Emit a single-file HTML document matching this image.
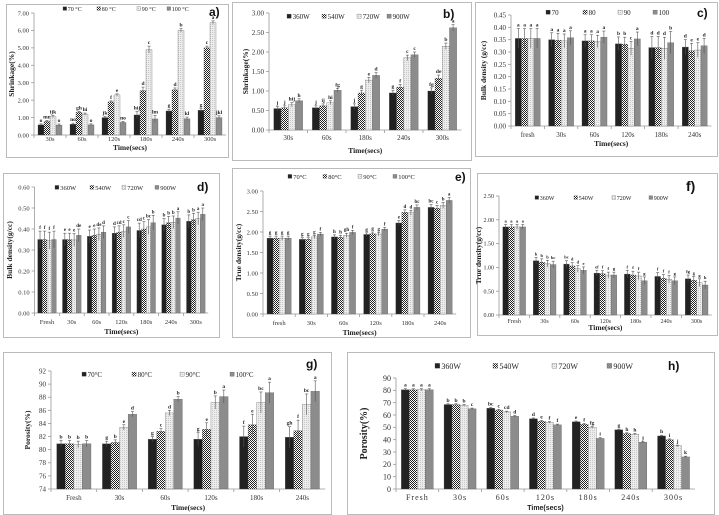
<!DOCTYPE html>
<html><head><meta charset="utf-8"><style>
html,body{margin:0;padding:0;background:#fff;}
svg{display:block;font-family:"Liberation Serif",serif;}
</style></head><body>
<svg id="root" width="719" height="515" viewBox="0 0 719 515" xmlns="http://www.w3.org/2000/svg">
<defs>
<pattern id="chk" width="2" height="2" patternUnits="userSpaceOnUse"><rect width="2" height="2" fill="#fff"/><rect width="1" height="1" fill="#222"/><rect x="1" y="1" width="1" height="1" fill="#222"/></pattern>
<pattern id="dot" width="2" height="2" patternUnits="userSpaceOnUse"><rect width="2" height="2" fill="#ececec"/><rect width="1" height="1" fill="#c8c8c8"/></pattern>
</defs>
</svg>
<script>
// ---- a) Shrinkage temp ----
const aCats=["30s","60s","120s","180s","240s","300s"];
const aTicks=[0,1,2,3,4,5,6,7];
const aS1=[0.58,0.62,1.0,1.15,1.38,1.42];
const aS2=[0.78,1.3,1.9,2.55,2.6,5.0];
const aS3=[1.05,1.2,2.3,4.9,6.0,6.45];
const aS4=[0.57,0.58,0.72,0.92,0.93,1.0];
const aErr=[0.06,0.06,0.06,0.2,0.1,0.1];
const aLet=["o mn ijk o","no gh hi o","jk f e no","hij d c lm","g d b kl","g c a jkl"];
// ---- b) Shrinkage power ----
const bCats=["30s","60s","180s","240s","300s"];
const bTicks=[0,0.5,1,1.5,2,2.5,3];
const bS1=[0.55,0.57,0.6,0.95,1.0];
const bS2=[0.57,0.62,0.95,1.1,1.33];
const bS3=[0.65,0.7,1.28,1.85,2.15];
const bS4=[0.75,1.02,1.4,1.93,2.62];
const bErr=[0.05,0.05,0.07,0.07,0.08];
const bLet=["j j hij h","j ij hi fg","j g e d","g f c c","fg de b a"];
// ---- c) Bulk density temp ----
const cCats=["fresh","30s","60s","120s","180s","240s"];
const cTicks=[0,0.05,0.1,0.15,0.2,0.25,0.3,0.35,0.4,0.45];
const cS1=[0.355,0.35,0.345,0.333,0.318,0.32];
const cS2=[0.355,0.348,0.345,0.332,0.318,0.305];
const cS3=[0.355,0.345,0.343,0.315,0.315,0.308];
const cS4=[0.355,0.358,0.36,0.353,0.338,0.325];
const cErr=[0.04,0.028,0.025,0.028,0.045,0.03];
const cLet=["a a a a","a a a a","a a a a","b b c a","d d d b","d e e d"];
// ---- d) Bulk density power ----
const dCats=["Fresh","30s","60s","120s","180s","240s","300s"];
const dTicks=[0,0.1,0.2,0.3,0.4,0.5,0.6];
const dS1=[0.35,0.35,0.365,0.38,0.393,0.42,0.437];
const dS2=[0.35,0.35,0.37,0.385,0.4,0.43,0.445];
const dS3=[0.345,0.348,0.375,0.39,0.41,0.432,0.45];
const dS4=[0.35,0.37,0.385,0.41,0.43,0.452,0.47];
const dErr=[0.04,0.03,0.03,0.03,0.035,0.03,0.03];
const dLet=["f f f f","e e e de","e e de d","d cd c c","cd c bc b","b b b a","b b a a"];
// ---- e) True density temp ----
const eCats=["fresh","30s","60s","120s","180s","240s"];
const eTicks=[0,0.5,1,1.5,2,2.5,3];
const eS1=[1.85,1.82,1.88,1.94,2.22,2.6];
const eS2=[1.85,1.82,1.87,1.96,2.48,2.58];
const eS3=[1.85,1.88,1.92,1.95,2.47,2.65];
const eS4=[1.85,1.95,1.99,2.07,2.6,2.77];
const eErr=[0.05,0.04,0.05,0.04,0.06,0.07];
const eLet=["g g g g","g g g f","h h gh f","g g g f","e d d bc","bc c b a"];
// ---- f) True density power ----
const fCats=["Fresh","30s","60s","120s","180s","240s","300s"];
const fTicks=[0,0.5,1,1.5,2,2.5];
const fS1=[1.85,1.14,1.07,0.88,0.86,0.81,0.76];
const fS2=[1.85,1.11,1.03,0.87,0.84,0.77,0.73];
const fS3=[1.85,1.08,0.97,0.84,0.82,0.75,0.68];
const fS4=[1.85,1.06,0.94,0.84,0.72,0.72,0.63];
const fErr=[0.05,0.07,0.07,0.06,0.08,0.08,0.08];
const fLet=["a a a a","b b b bc","bc d d e","ef f f g","f f f g","f f f g","fg g g h"];
// ---- g) Porosity temp ----
const gCats=["Fresh","30s","60s","120s","180s","240s"];
const gTicks=[74,76,78,80,82,84,86,88,90,92];
const gS1=[80.9,80.9,81.6,81.6,82.0,81.9];
const gS2=[80.9,81.1,82.8,83.1,83.8,82.9];
const gS3=[80.8,83.4,85.6,87.2,87.2,86.9];
const gS4=[80.9,85.4,87.7,88.1,88.7,88.9];
const gErr=[0.5,0.4,0.4,1.0,1.6,1.6];
const gLet=["b b b b","g b e d","g c d b","g e b a","f e bc a","gh f bc a"];
// ---- h) Porosity power ----
const hCats=["Fresh","30s","60s","120s","180s","240s","300s"];
const hTicks=[0,10,20,30,40,50,60,70,80,90];
const hS1=[80.5,68.5,65.5,57,54.5,48,43];
const hS2=[80.5,68.5,64,55,52.5,45,40];
const hS3=[80.5,68,62.5,54,50,44.5,35];
const hS4=[80.5,65,59,52,41,38,26];
const hErr=[0.8,0.6,0.6,0.6,0.6,0.6,0.6];
const hLet=["a a a a","b b b c","bc c cd d","d e f f","e f fg i","g h h j","h i j k"];

const NS="http://www.w3.org/2000/svg";
const root=document.getElementById('root');
const FILLS=["#222","url(#chk)","url(#dot)","#8c8c8c"];
function mk(tag,attrs,parent,txt){const e=document.createElementNS(NS,tag);for(const k in attrs)e.setAttribute(k,attrs[k]);if(txt!==undefined)e.textContent=txt;(parent||root).appendChild(e);return e;}

function chart(c){
  const g=mk('g',{});
  
  
  const fr=mk('rect',{x:c.frame[0]+0.5,y:c.frame[1]+0.5,width:c.frame[2]-c.frame[0],height:c.frame[3]-c.frame[1],fill:'#fff',stroke:'#bbb','stroke-width':1},g);
  
  
  const yMin=c.ticks[0],yMax=c.ticks[c.ticks.length-1];
  const Y=v=>c.y0+(v-yMin)/(yMax-yMin)*(c.yTop-c.y0);
  const n=c.cats.length,band=c.band;
  const X=i=>c.x0+band*(i+0.5);
  const fs=c.fs||7;
  // y axis
  const ya=mk('line',{x1:c.x0,y1:c.y0,x2:c.x0,y2:c.yTop,stroke:'#999','stroke-width':0.8},g);
  
  
  c.ticks.forEach(t=>{
    mk('line',{x1:c.x0-3,y1:Y(t),x2:c.x0,y2:Y(t),stroke:'#999','stroke-width':0.8},g);
    const tl=mk('text',{x:c.x0-5,y:Y(t)+fs*0.35,'font-size':fs,'text-anchor':'end',fill:'#333'},g,t.toFixed(c.dec));
    
    
  });
  const xa=mk('line',{x1:c.x0,y1:c.y0,x2:c.x0+band*n,y2:c.y0,stroke:'#999','stroke-width':0.8},g);
  
  
  const bw=band*0.75/4;
  c.series.forEach((s,si)=>{
    s.forEach((v,i)=>{
      const bx=X(i)-2*bw+si*bw;
      const r=mk('rect',{x:bx,y:Y(v),width:bw,height:c.y0-Y(v),fill:FILLS[si],stroke:'#555','stroke-width':0.3},g);
      
      
      const e=c.err[i],cx=bx+bw/2;
      mk('line',{x1:cx,y1:Y(v-e),x2:cx,y2:Y(v+e),stroke:'#555','stroke-width':0.6},g);
      mk('line',{x1:cx-1.5,y1:Y(v+e),x2:cx+1.5,y2:Y(v+e),stroke:'#555','stroke-width':0.6},g);
      const lt=mk('text',{x:cx,y:Y(v+e)-2,'font-size':c.lfs||5.5,'font-weight':'bold','text-anchor':'middle',fill:'#222'},g,c.lets[i].split(' ')[si]);
      
      
    });
  });
  c.cats.forEach((cat,i)=>{
    mk('line',{x1:c.x0+band*i,y1:c.y0,x2:c.x0+band*i,y2:c.y0+3,stroke:'#999','stroke-width':0.8},g);
    const xl=mk('text',{x:X(i),y:c.xl,'font-size':fs,'text-anchor':'middle',fill:'#333','letter-spacing':c.ls||0},g,cat);
    
    
  });
  const xt=mk('text',{x:c.x0+band*n/2,y:c.xt,'font-size':c.xfs||7.5,'font-weight':'bold','text-anchor':'middle',fill:'#222','font-family':c.xff||'Liberation Serif, serif'},g,'Time(secs)');
  
  
  const yc=(c.y0+c.yTop)/2;
  const yt=mk('text',{x:c.yx,y:yc,'font-size':c.yfs||7.5,'font-weight':'bold','text-anchor':'middle',fill:'#222',transform:'rotate(-90 '+c.yx+' '+yc+')'},g,c.ytitle);
  
  
  c.legend.forEach((lab,li)=>{
    const lx=c.legX[li];
    const m=mk('rect',{x:lx,y:c.legY-c.lgfs*0.7,width:c.lgfs*0.6,height:c.lgfs*0.6,fill:FILLS[li],stroke:'#555','stroke-width':0.3},g);
    
    
    const lt=mk('text',{x:lx+c.lgfs*0.8,y:c.legY,'font-size':c.lgfs,fill:'#222'},g,lab);
    
    
  });
  const pt=mk('text',{x:c.px,y:c.py,'font-size':c.pfs||12,'font-weight':'bold','font-family':'Liberation Sans, sans-serif',fill:'#111'},g,c.panel);
  
  
}
const T=["70 °C","80 °C","90 °C","100 °C"],T2=["70°C","80°C","90°C","100°C"],W=["360W","540W","720W","900W"];
chart({name:'chart-a-shrinkage-temp',frame:[6,4,228,157],x0:34,band:32,y0:135,yTop:13,ticks:aTicks,dec:2,cats:aCats,series:[aS1,aS2,aS3,aS4],err:aErr,lets:aLet,xl:141,xt:150,yx:14,ytitle:'Shrinkage(%)',legend:T,legX:[63,97,137,167],legY:11,lgfs:6,panel:'a)',px:209,py:16,fs:6.5});
chart({name:'chart-b-shrinkage-power',frame:[232,2,471,160],x0:269,band:38.5,y0:130,yTop:13,ticks:bTicks,dec:2,cats:bCats,series:[bS1,bS2,bS3,bS4],err:bErr,lets:bLet,xl:140,xt:153,yx:248,ytitle:'Shrinkage(%)',legend:W,legX:[287,322,357,387],legY:19,lgfs:7,panel:'b)',px:443,py:18,fs:7});
chart({name:'chart-c-bulk-density-temp',frame:[475,2,717,156],x0:511,band:33.4,y0:126,yTop:15,ticks:cTicks,dec:2,cats:cCats,series:[cS1,cS2,cS3,cS4],err:cErr,lets:cLet,xl:137,xt:146,yx:486,ytitle:'Bulk density (g/cc)',legend:["70","80","90","100"],legX:[546,583,618,653],legY:15,lgfs:7,panel:'c)',px:697,py:17,fs:7});
chart({name:'chart-d-bulk-density-power',frame:[3,173,219,337],x0:34.6,band:24.8,y0:313,yTop:187,ticks:dTicks,dec:2,cats:dCats,series:[dS1,dS2,dS3,dS4],err:dErr,lets:dLet,xl:324,xt:334,yx:12,ytitle:'Bulk density(g/cc)',legend:W,legX:[55,90,122,155],legY:190,lgfs:6.5,panel:'d)',px:197,py:191,fs:6.5,lfs:5});
chart({name:'chart-e-true-density-temp',frame:[232,168,470,337],x0:263,band:32.2,y0:314,yTop:191,ticks:eTicks,dec:2,cats:eCats,series:[eS1,eS2,eS3,eS4],err:eErr,lets:eLet,xl:325,xt:335,yx:241,ytitle:'True density(g/cc)',legend:T2,legX:[288,323,358,393],legY:179,lgfs:6.5,panel:'e)',px:455,py:181,fs:6.5,lfs:5});
chart({name:'chart-f-true-density-power',frame:[477,173,717,335],x0:499,band:30.4,y0:315,yTop:196,ticks:fTicks,dec:2,cats:fCats,series:[fS1,fS2,fS3,fS4],err:fErr,lets:fLet,xl:323,xt:330,yx:481,ytitle:'True density(g/cc)',legend:W,legX:[535,574,612,649],legY:200,lgfs:6,panel:'f)',px:686,py:191,pfs:14,fs:6,lfs:4.5});
chart({name:'chart-g-porosity-temp',frame:[3,352,331,514],x0:51,band:45.7,y0:489,yTop:371,ticks:gTicks,dec:0,cats:gCats,series:[gS1,gS2,gS3,gS4],err:gErr,lets:gLet,xl:500,xt:510,yx:30,ytitle:'Porosity(%)',legend:T2,legX:[82,132,180,230],legY:377,lgfs:7,panel:'g)',px:306,py:368,fs:7,lfs:5.5});
chart({name:'chart-h-porosity-power',frame:[347,352,714,514],x0:396,band:42.7,y0:489,yTop:378,ticks:hTicks,dec:0,cats:hCats,series:[hS1,hS2,hS3,hS4],err:hErr,lets:hLet,xl:500,xt:510,yx:367,ytitle:'Porosity(%)',legend:W,legX:[435,493,552,607],legY:369,lgfs:8,panel:'h)',px:668,py:370,fs:8,lfs:5.5,ls:1,yfs:10,xfs:7,xff:'Liberation Sans, sans-serif'});
</script>
</body></html>
